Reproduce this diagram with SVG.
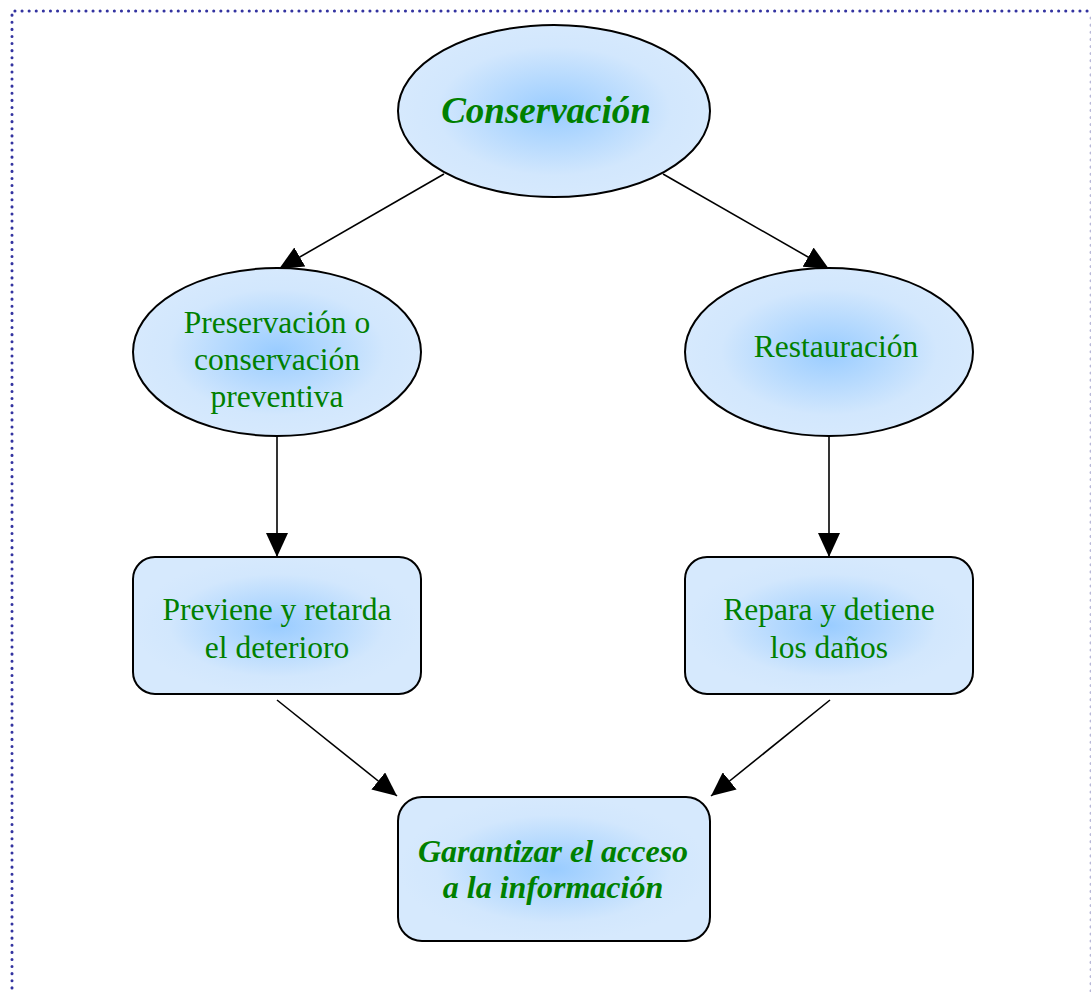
<svg xmlns="http://www.w3.org/2000/svg" width="1091" height="992" viewBox="0 0 1091 992">
<defs>
<radialGradient id="g" cx="50%" cy="50%" r="50%">
<stop offset="0" stop-color="#99ccff"/>
<stop offset="0.75" stop-color="#d2e7fd"/>
<stop offset="1" stop-color="#d6e9fd"/>
</radialGradient>
<marker id="ah" markerUnits="userSpaceOnUse" markerWidth="24" markerHeight="22" viewBox="0 0 24 22" refX="24" refY="11" orient="auto">
<path d="M0,0 L24,11 L0,22 Z" fill="#000"/>
</marker>
<style>
.n{fill:url(#g);stroke:#000;stroke-width:2}
.t{font-family:"Liberation Serif","Times New Roman",serif;fill:#008000;text-anchor:middle;font-size:31.5px}
.b{font-weight:bold;font-style:italic}
.c{stroke:#000;stroke-width:1.6;fill:none;marker-end:url(#ah)}
.d{fill:none;stroke-width:3;stroke-dasharray:0.1 7;stroke-linecap:round}
</style>
</defs>
<rect x="0" y="0" width="1091" height="992" fill="#fff"/>
<path class="d" d="M12,995 L12,11 L1090,11" stroke="#3333a0"/>
<path class="d" d="M1091,18 L1091,995" stroke="#b8b8d8"/>
<g id="connectors">
<line class="c" x1="444" y1="174" x2="279" y2="269"/>
<line class="c" x1="663" y1="174" x2="829" y2="269"/>
<line class="c" x1="277" y1="437" x2="277" y2="557"/>
<line class="c" x1="829" y1="437" x2="829" y2="557"/>
<line class="c" x1="277" y1="700" x2="397" y2="796"/>
<line class="c" x1="830" y1="700" x2="711" y2="796"/>
</g>
<g id="conservacion">
<ellipse class="n" cx="554" cy="111" rx="156" ry="86"/>
<text class="t b" x="546" y="123" style="font-size:37px">Conservación</text>
</g>
<g id="preservacion">
<ellipse class="n" cx="277" cy="352" rx="144" ry="84"/>
<text class="t" x="277" y="333">Preservación o</text>
<text class="t" x="277" y="370">conservación</text>
<text class="t" x="277" y="407">preventiva</text>
</g>
<g id="restauracion">
<ellipse class="n" cx="829" cy="352" rx="144" ry="84"/>
<text class="t" x="836" y="357">Restauración</text>
</g>
<g id="previene">
<rect class="n" x="133" y="557" width="288" height="137" rx="22"/>
<text class="t" x="277" y="620">Previene y retarda</text>
<text class="t" x="277" y="658">el deterioro</text>
</g>
<g id="repara">
<rect class="n" x="685" y="557" width="288" height="137" rx="22"/>
<text class="t" x="829" y="620">Repara y detiene</text>
<text class="t" x="829" y="658">los daños</text>
</g>
<g id="garantizar">
<rect class="n" x="398" y="797" width="312" height="144" rx="24"/>
<text class="t b" x="553" y="862" style="font-size:32px">Garantizar el acceso</text>
<text class="t b" x="553" y="898" style="font-size:32px">a la información</text>
</g>
</svg>
